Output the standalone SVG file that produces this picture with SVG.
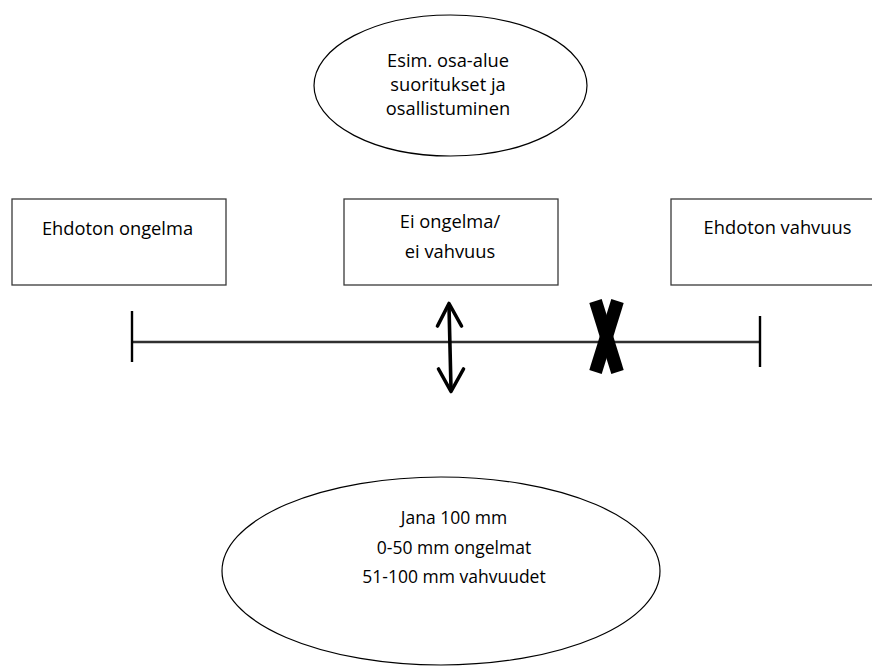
<svg xmlns="http://www.w3.org/2000/svg" width="872" height="666" viewBox="0 0 872 666">
<style>
.t{font-family:"Open Sans","Liberation Sans",sans-serif;font-size:18.3px;fill:#000;text-anchor:middle}
.b{font-size:17.5px}
.box{fill:#fff;stroke:#3a3a3a;stroke-width:1.3}
.ell{fill:#fff;stroke:#000;stroke-width:1.2}
</style>
<rect width="872" height="666" fill="#fff"/>
<g id="top-ellipse">
<ellipse class="ell" cx="450.5" cy="85.5" rx="136.5" ry="70.5"/>
<text class="t" x="448" y="67">Esim. osa-alue</text>
<text class="t" x="448" y="91">suoritukset ja</text>
<text class="t" x="448" y="115">osallistuminen</text>
</g>
<g id="box-left">
<rect class="box" x="12" y="199" width="214" height="86"/>
<text class="t" x="117.5" y="235">Ehdoton ongelma</text>
</g>
<g id="box-middle">
<rect class="box" x="344" y="199" width="214" height="86"/>
<text class="t" x="450" y="228">Ei ongelma/</text>
<text class="t" x="450" y="258">ei vahvuus</text>
</g>
<g id="box-right">
<rect class="box" x="671" y="199" width="215" height="86"/>
<text class="t" x="777.5" y="234">Ehdoton vahvuus</text>
</g>
<g id="scale">
<line x1="132" y1="342" x2="760" y2="342" stroke="#303030" stroke-width="2.6"/>
<line x1="132" y1="311" x2="132" y2="362" stroke="#000" stroke-width="2.4"/>
<line x1="760" y1="316" x2="760" y2="367" stroke="#000" stroke-width="2.4"/>
</g>
<g id="connectors" fill="none" stroke="#000" stroke-width="3.6" stroke-linecap="round" stroke-linejoin="round">
<line x1="449" y1="306" x2="451" y2="389"/>
<polyline points="437.5,326 449,303.5 461.5,326"/>
<polyline points="438.5,369 451,391.5 463.5,369"/>
</g>
<g id="x-mark" stroke="#000" stroke-width="13" stroke-linecap="butt">
<line x1="595.5" y1="301" x2="617.5" y2="372"/>
<line x1="617.5" y1="301" x2="595.5" y2="372"/>
</g>
<g id="bottom-ellipse">
<ellipse class="ell" cx="441" cy="571" rx="219" ry="94"/>
<text class="t b" x="454" y="524">Jana 100 mm</text>
<text class="t b" x="454" y="554">0-50 mm ongelmat</text>
<text class="t b" x="454" y="583">51-100 mm vahvuudet</text>
</g>
</svg>
